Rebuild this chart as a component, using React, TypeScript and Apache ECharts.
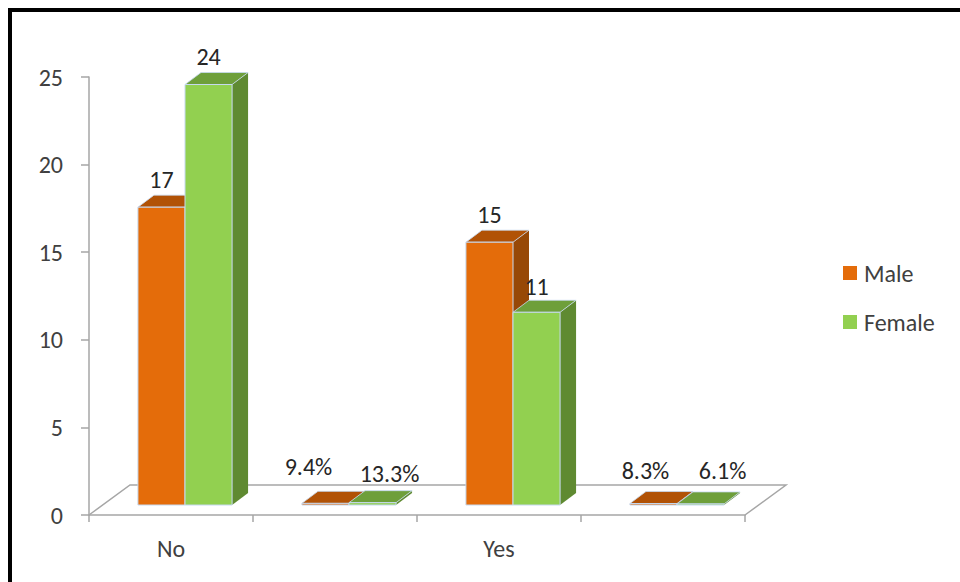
import React, { useEffect, useRef } from "react";
import * as echarts from "echarts";

// ---- data ----
const categories = ["No", "", "Yes", ""];
const seriesNames = ["Male", "Female"];
const maleValues = [17, 0.094, 15, 0.083];
const femaleValues = [24, 0.133, 11, 0.061];
const yTicks = { min: 0, max: 25, interval: 5 };

// ---- styling (not data) ----
const FONT = "Carlito, Lato, sans-serif";
const FS = 24;
const palettes = [
  { front: "#E46C0A", top: "#B15206", side: "#974806" },
  { front: "#92D050", top: "#6E9F3A", side: "#5F8A31" },
];
const labelNudges = [
  [[0, -28], [-17, -37], [0, -28], [-8, -33]],
  [[0, -28], [17, -29], [0, -26], [22, -33]],
];
const PLANE_DX = 14;
const PLANE_DY = 10;
const TOP_DX = 16;
const TOP_DY = 12;
const FLOOR_DX = 41;
const FLOOR_DY = 30;
const BAR_FRAC = 0.287;

function fmt(v: number) {
  return v < 1 ? (v * 100).toFixed(1) + "%" : String(v);
}

function makeBarRender(si: number) {
  const pal = palettes[si];
  return (params: any, api: any) => {
    const ci = api.value(0);
    const v = api.value(1);
    const base = api.coord([ci, 0]);
    const tp = api.coord([ci, v]);
    const band = api.size([1, 0])[0];
    const bw = band * BAR_FRAC;
    const cx = base[0] + PLANE_DX;
    const x0 = cx - bw + si * bw;
    const x1 = x0 + bw;
    const yb = base[1] - PLANE_DY;
    const yt = tp[1] - PLANE_DY;
    const nudge = labelNudges[si][ci];
    return {
      type: "group",
      children: [
        {
          type: "polygon",
          shape: {
            points: [
              [x1, yt],
              [x1 + TOP_DX, yt - TOP_DY],
              [x1 + TOP_DX, yb - TOP_DY],
              [x1, yb],
            ],
          },
          style: { fill: pal.side },
        },
        {
          type: "polygon",
          shape: {
            points: [
              [x0, yt],
              [x0 + TOP_DX, yt - TOP_DY],
              [x1 + TOP_DX, yt - TOP_DY],
              [x1, yt],
            ],
          },
          style: { fill: pal.top, stroke: "#C6D9F1", lineWidth: 0.8 },
        },
        {
          type: "rect",
          shape: { x: x0, y: yt, width: bw, height: Math.max(yb - yt, 0.5) },
          style: { fill: pal.front, stroke: "#C6D9F1", lineWidth: 1 },
        },
        {
          type: "text",
          x: x0 + bw / 2 + nudge[0],
          y: yt + nudge[1],
          style: {
            text: fmt(v),
            fill: "#262626",
            font: `${FS}px ${FONT}`,
            align: "center",
            verticalAlign: "middle",
          },
        },
      ],
    };
  };
}

function floorRender(params: any, api: any) {
  const band = api.size([1, 0])[0];
  const p0 = api.coord([0, 0]);
  const p1 = api.coord([categories.length - 1, 0]);
  const left = p0[0] - band / 2;
  const right = p1[0] + band / 2;
  const y0 = p0[1];
  return {
    type: "polyline",
    shape: {
      points: [
        [left, y0],
        [left + FLOOR_DX, y0 - FLOOR_DY],
        [right + FLOOR_DX, y0 - FLOOR_DY],
        [right, y0],
      ],
    },
    style: { stroke: "#A6A6A6", lineWidth: 1.5, fill: "none" },
  };
}

export default function App() {
  const ref = useRef<HTMLDivElement>(null);
  useEffect(() => {
    if (!ref.current) return;
    const chart = echarts.init(ref.current, null, { renderer: "svg" });
    const valueSets = [maleValues, femaleValues];
    chart.setOption({
      animation: false,
      backgroundColor: "#ffffff",
      grid: { left: 89, right: 215, top: 77, bottom: 67 },
      graphic: [
        { type: "rect", shape: { x: 8, y: 8, width: 4, height: 574 }, style: { fill: "#000" } },
        { type: "rect", shape: { x: 8, y: 8, width: 952, height: 4 }, style: { fill: "#000" } },
      ],
      legend: {
        orient: "vertical",
        left: 838,
        top: 256,
        padding: 5,
        itemWidth: 14,
        itemHeight: 14,
        itemGap: 25,
        icon: "rect",
        data: seriesNames,
        textStyle: {
          fontFamily: FONT,
          fontSize: FS,
          lineHeight: 24,
          color: "#404040",
          padding: [0, 0, 0, 2],
        },
      },
      xAxis: {
        type: "category",
        data: categories,
        axisLine: { show: true, lineStyle: { color: "#A6A6A6", width: 1.5 } },
        axisTick: { show: true, interval: 0, length: 7, lineStyle: { color: "#A6A6A6", width: 1.5 } },
        axisLabel: { interval: 0, fontFamily: FONT, fontSize: FS, color: "#404040", margin: 21 },
        splitLine: { show: false },
      },
      yAxis: {
        type: "value",
        min: yTicks.min,
        max: yTicks.max,
        interval: yTicks.interval,
        axisLine: { show: true, lineStyle: { color: "#A6A6A6", width: 1.5 } },
        axisTick: { show: true, length: 8, lineStyle: { color: "#A6A6A6", width: 1.5 } },
        axisLabel: { fontFamily: FONT, fontSize: FS, color: "#404040", margin: 26 },
        splitLine: { show: false },
      },
      series: [
        {
          type: "custom",
          name: "floor",
          z: 1,
          renderItem: floorRender,
          data: [[0, 0]],
          silent: true,
        },
        ...seriesNames.map((name, si) => ({
          type: "custom",
          name,
          z: 2 + si,
          itemStyle: { color: palettes[si].front },
          renderItem: makeBarRender(si),
          encode: { x: 0, y: 1 },
          data: categories.map((_, ci) => [ci, valueSets[si][ci]]),
        })),
      ],
    });
    return () => chart.dispose();
  }, []);
  return (
    <div
      ref={ref}
      style={{ position: "fixed", left: 0, top: 0, width: 960, height: 582 }}
    />
  );
}
